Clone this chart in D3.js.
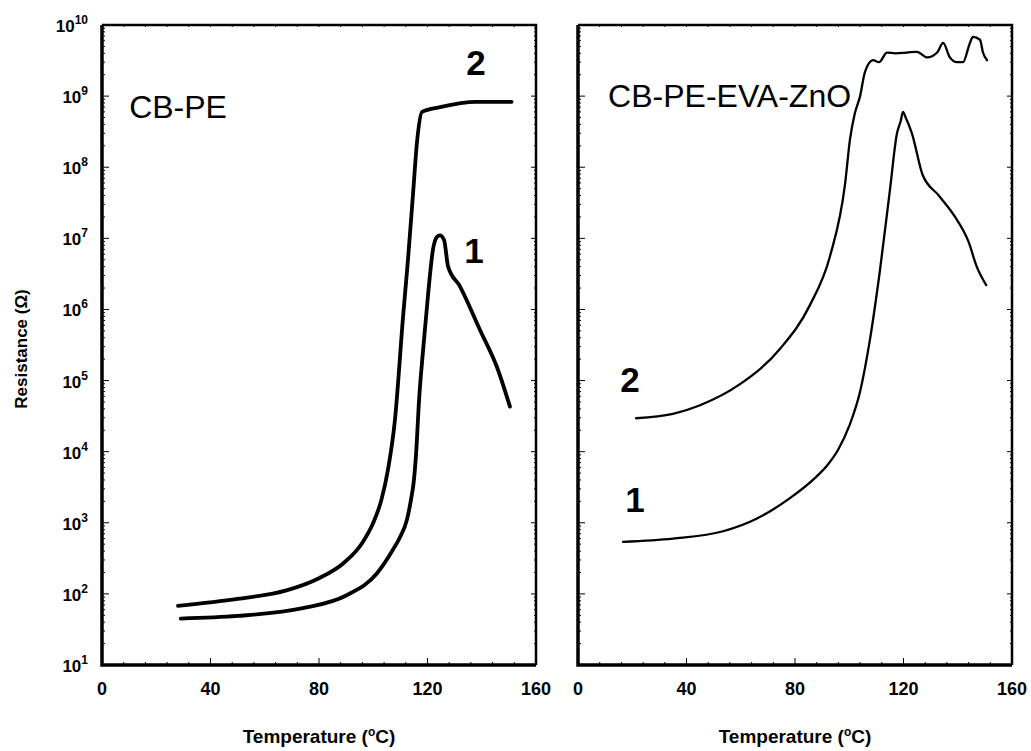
<!DOCTYPE html>
<html lang="en">
<head>
<meta charset="UTF-8">
<title>Resistance vs temperature</title>
<script src="https://d3js.org/d3.v7.min.js"></script>
<style>
  body { margin: 0; background: #fff; }
  svg { font-family: "Liberation Sans", Arial, sans-serif; }
</style>
</head>
<body>
<svg id="chart" width="1031" height="751"></svg>
<script>
// temperature (°C) and resistance (ohm)
const pe2T = [28, 50, 68, 80, 89, 96, 100, 103, 105.4, 108, 111, 112.8, 114.7, 116.1, 118, 124.6, 138, 151];
const pe2R = [68, 85, 112, 166, 270, 525, 1000, 2100, 5500, 2.8e4, 8e5, 5e6, 4.4e7, 2.2e8, 6e8, 7e8, 8.3e8, 8.3e8];

const pe1T = [29, 50, 74, 90, 101.4, 107.3, 109.9, 112.4, 113.9, 115, 115.8, 116.9, 118.3, 120.2, 122, 123.5, 124.6, 126.1, 127.6, 132, 139.4, 145.6, 150.4];
const pe1R = [45, 49, 63, 95, 195, 420, 630, 1100, 2100, 4000, 9500, 5.4e4, 2.5e5, 1.6e6, 6.9e6, 1.05e7, 1.1e7, 9.5e6, 4e6, 2.1e6, 5.1e5, 1.55e5, 4.3e4];

const zno1T = [16.6, 35, 53.5, 66, 78, 88, 92, 96, 100, 104, 107.6, 111.3, 115, 117.6, 119, 119.8, 120.8, 123.1, 127, 133, 139, 144, 147, 150.5];
const zno1R = [540, 600, 760, 1150, 2200, 4500, 6500, 1.08e4, 2.3e4, 7e4, 3.7e5, 3.5e6, 4.8e7, 3e8, 4.5e8, 6e8, 5e8, 3e8, 7.9e7, 4e7, 2e7, 8.9e6, 4e6, 2.2e6];

const zno2T = [21.4, 35, 45, 59.7, 74.5, 85.5, 92.9, 98.4, 100.3, 102, 104, 105.8, 108.8, 111, 113.9, 117, 121.3, 125, 128.7, 132.4, 134.6, 137.1, 139.7, 141.9, 144.5, 145.6, 148.2, 149.3, 150.8];
const zno2R = [2.95e4, 3.4e4, 4.5e4, 8.9e4, 2.8e5, 1.15e6, 5.6e6, 5.6e7, 2.5e8, 5.6e8, 1e9, 2.2e9, 3.2e9, 3.0e9, 4.1e9, 4.0e9, 4.1e9, 4.2e9, 3.5e9, 4.1e9, 5.6e9, 3.5e9, 3.0e9, 3.0e9, 5.6e9, 6.8e9, 6.2e9, 4.1e9, 3.2e9];

const xTicks = [0, 40, 80, 120, 160];
const yExps = [1, 2, 3, 4, 5, 6, 7, 8, 9, 10];

const panels = [
  { left: 102, title: "CB-PE", width: 3.8,
    series: [{ T: pe2T, R: pe2R, tag: "2", at: [137.9, 2e9] }, { T: pe1T, R: pe1R, tag: "1", at: [137.1, 4.5e6] }],
    titleAt: [10, 4.9e8], yLabels: true },
  { left: 578, title: "CB-PE-EVA-ZnO", width: 2.3,
    series: [{ T: zno2T, R: zno2R, tag: "2", at: [19.2, 6.9e4] }, { T: zno1T, R: zno1R, tag: "1", at: [21, 1.4e3] }],
    titleAt: [11.1, 7e8], yLabels: false }
];

const plotTop = 25, plotBottom = 665, pw = 434;
const svg = d3.select("#chart");

const y = d3.scaleLog().domain([10, 1e10]).range([plotBottom, plotTop]);

panels.forEach(p => {
  const x = d3.scaleLinear().domain([0, 160]).range([p.left, p.left + pw]);
  const g = svg.append("g");

  // minor / major ticks on y (inward)
  const yTickVals = [];
  for (let e = 1; e < 10; e++) for (let m = 1; m < 10; m++) yTickVals.push(m * Math.pow(10, e));
  yTickVals.push(1e10);
  const isMajor = d => Math.abs(Math.log10(d) - Math.round(Math.log10(d))) < 1e-9;
  g.selectAll(".ytick").data(yTickVals).enter().append("line")
    .attr("x1", p.left).attr("x2", d => p.left + (isMajor(d) ? 7 : 3))
    .attr("y1", d => y(d)).attr("y2", d => y(d))
    .attr("stroke", "#000").attr("stroke-width", 1);
  g.selectAll(".ytickr").data(yTickVals).enter().append("line")
    .attr("x1", p.left + pw).attr("x2", d => p.left + pw - (isMajor(d) ? 5 : 2))
    .attr("y1", d => y(d)).attr("y2", d => y(d))
    .attr("stroke", "#000").attr("stroke-width", 1);

  // x ticks
  const xMinor = d3.range(0, 161, 8);
  g.selectAll(".xtick").data(xMinor).enter().append("line")
    .attr("x1", d => x(d)).attr("x2", d => x(d))
    .attr("y1", plotBottom).attr("y2", d => plotBottom - (d % 40 === 0 ? 7 : 3))
    .attr("stroke", "#000").attr("stroke-width", 1);
  g.selectAll(".xtickt").data(xMinor).enter().append("line")
    .attr("x1", d => x(d)).attr("x2", d => x(d))
    .attr("y1", plotTop).attr("y2", plotTop + 2)
    .attr("stroke", "#000").attr("stroke-width", 1);

  // frame
  g.append("path")
    .attr("d", `M${p.left},${plotTop}H${p.left + pw}V${plotBottom}`)
    .attr("fill", "none").attr("stroke", "#000").attr("stroke-width", 2.5);
  g.append("path")
    .attr("d", `M${p.left},${plotTop}V${plotBottom}H${p.left + pw}`)
    .attr("fill", "none").attr("stroke", "#000").attr("stroke-width", 3.5);

  // x tick labels
  g.selectAll(".xlab").data(xTicks).enter().append("text")
    .attr("x", d => x(d)).attr("y", plotBottom + 30)
    .attr("text-anchor", "middle").attr("font-size", 18).attr("font-weight", "bold")
    .text(d => d);

  if (p.yLabels) {
    const yl = g.selectAll(".ylab").data(yExps).enter().append("text")
      .attr("x", p.left - 14).attr("y", d => y(Math.pow(10, d)) + 7)
      .attr("text-anchor", "end").attr("font-size", 17).attr("font-weight", "bold");
    yl.append("tspan").text("10");
    yl.append("tspan").attr("dy", -8).attr("font-size", 12).text(d => d);
  }

  // axis title
  const xt = g.append("text")
    .attr("x", p.left + pw / 2).attr("y", 743)
    .attr("text-anchor", "middle").attr("font-size", 19).attr("font-weight", "bold");
  xt.append("tspan").text("Temperature (");
  xt.append("tspan").attr("dy", -7).attr("font-size", 12).text("o");
  xt.append("tspan").attr("dy", 7).text("C)");

  // curves
  const line = d3.line()
    .x(d => x(d[0])).y(d => y(d[1]))
    .curve(d3.curveMonotoneX);
  p.series.forEach(s => {
    const pts = s.T.map((t, i) => [t, s.R[i]]);
    g.append("path").datum(pts)
      .attr("d", line)
      .attr("fill", "none").attr("stroke", "#000")
      .attr("stroke-width", p.width).attr("stroke-linejoin", "round").attr("stroke-linecap", "round");
    g.append("text")
      .attr("x", x(s.at[0])).attr("y", y(s.at[1]))
      .attr("text-anchor", "middle").attr("font-size", 35).attr("font-weight", "bold")
      .text(s.tag);
  });

  g.append("text")
    .attr("x", x(p.titleAt[0])).attr("y", y(p.titleAt[1]))
    .attr("font-size", 32)
    .text(p.title);
});

// y axis title
svg.append("text")
  .attr("transform", "translate(27,349) rotate(-90)")
  .attr("text-anchor", "middle").attr("font-size", 17).attr("font-weight", "bold")
  .text("Resistance (Ω)");
</script>
</body>
</html>
